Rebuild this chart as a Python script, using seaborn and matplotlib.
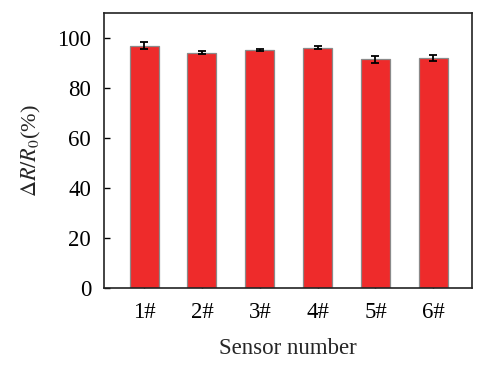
import matplotlib
matplotlib.use("Agg")
import matplotlib.pyplot as plt
import seaborn as sns
import pandas as pd

# values
sensors = ["1#", "2#", "3#", "4#", "5#", "6#"]
response = [96.9, 94.0, 95.2, 96.0, 91.4, 92.0]
err = [1.4, 0.6, 0.3, 0.6, 1.4, 1.2]

sns.set_style("ticks")
plt.rcParams['font.family'] = ['Liberation Serif', 'DejaVu Serif']
plt.rcParams['mathtext.fontset'] = 'stix'

df = pd.DataFrame({"Sensor": sensors, "Response": response})

fig = plt.figure(figsize=(4.98, 3.65), dpi=100)
ax = fig.add_axes([0.208, 0.211, 0.740, 0.754])

sns.barplot(data=df, x="Sensor", y="Response", color="#ee2b2b", saturation=1,
            width=0.5, edgecolor="#8a8a8a", linewidth=0.9, errorbar=None, ax=ax)
ax.errorbar(x=range(len(sensors)), y=response, yerr=err, fmt="none",
            ecolor="black", elinewidth=1.3, capsize=3, capthick=1.3)

ax.set_ylim(0, 110)
ax.set_xlim(-0.7, 5.67)
ax.set_yticks([0, 20, 40, 60, 80, 100])
ax.set_xlabel("Sensor number", fontsize=16.5, labelpad=11)
ax.set_ylabel(r"$\Delta R/R_0$(%)", fontsize=16, labelpad=10)
ax.tick_params(direction="in", labelsize=16.5, width=1, length=4, colors="black")
ax.tick_params(axis="y", pad=9)
ax.tick_params(axis="x", pad=10)
for s in ax.spines.values():
    s.set_visible(True)
    s.set_linewidth(1.2)
    s.set_color("#222222")

fig.savefig("out.png", dpi=100)
